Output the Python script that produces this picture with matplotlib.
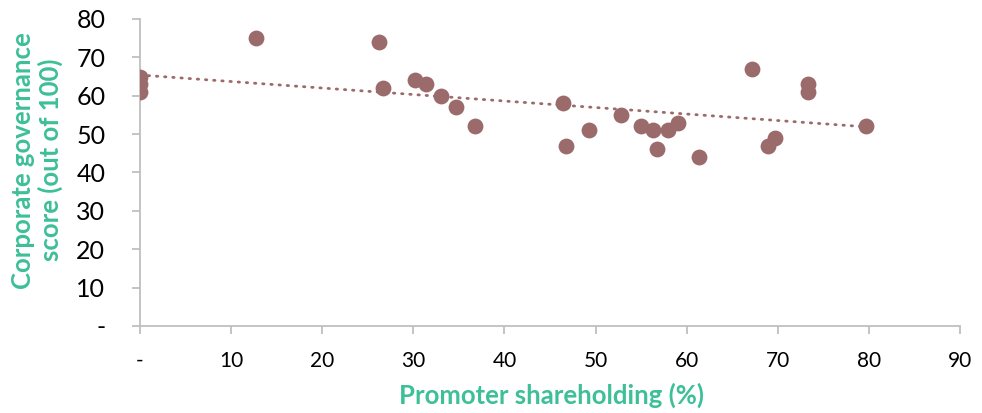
import matplotlib
matplotlib.use("Agg")
import matplotlib.pyplot as plt

# promoter shareholding (%) vs corporate governance score
promoter_pct = [0, 0, 0, 12.7, 26.2, 26.7, 30.2, 31.4, 33.0, 34.7, 36.8,
                46.4, 46.7, 49.3, 52.8, 55.0, 56.3, 56.7, 58.0, 59.0, 61.3,
                67.2, 68.9, 69.7, 73.3, 73.3, 79.7]
gov_score = [65, 63, 61, 75, 74, 62, 64, 63, 60, 57, 52,
             58, 47, 51, 55, 52, 51, 46, 51, 53, 44,
             67, 47, 49, 63, 61, 52]

# linear trendline (end points)
trend_x = [0, 79.7]
trend_y = [65.4, 51.9]

x_ticks = [0, 10, 20, 30, 40, 50, 60, 70, 80, 90]
y_ticks = [0, 10, 20, 30, 40, 50, 60, 70, 80]

point_color = "#9B6A6A"
title_color = "#3DBF98"
axis_color = "#BFBFBF"

plt.rcParams["font.family"] = ["Lato", "DejaVu Sans"]

fig = plt.figure(figsize=(9.82, 4.13), dpi=100)
ax = fig.add_axes([0.1426, 0.2107, 0.835, 0.7433])

ax.scatter(promoter_pct, gov_score, s=130, color=point_color, zorder=3, linewidths=0)
ax.plot(trend_x, trend_y, color=point_color, linestyle=(0, (0.5, 2.45)),
        linewidth=2.0, dash_capstyle="round", zorder=2)

ax.set_xlim(0, 90)
ax.set_ylim(0, 80)
ax.set_xticks(x_ticks)
ax.set_yticks(y_ticks)
ax.set_xticklabels(["-" if v == 0 else str(v) for v in x_ticks], fontsize=15)
ax.set_yticklabels(["-" if v == 0 else str(v) for v in y_ticks], fontsize=18)

for side in ["top", "right"]:
    ax.spines[side].set_visible(False)
for side in ["left", "bottom"]:
    ax.spines[side].set_color(axis_color)
    ax.spines[side].set_linewidth(1.3)
ax.tick_params(axis="both", color=axis_color, length=6, width=1.3)
ax.tick_params(axis="x", pad=12)
ax.tick_params(axis="y", pad=19)

ax.set_xlabel("Promoter shareholding (%)", color=title_color, fontsize=18.5,
              fontweight="bold", va="center")
ax.xaxis.set_label_coords(0.502, -0.225)
ax.set_ylabel("Corporate governance\nscore (out of 100)", color=title_color,
              fontsize=18.5, fontweight="bold", va="center", linespacing=1.15)
ax.yaxis.set_label_coords(-0.1256, 0.54)

fig.savefig("out.png", dpi=100)
